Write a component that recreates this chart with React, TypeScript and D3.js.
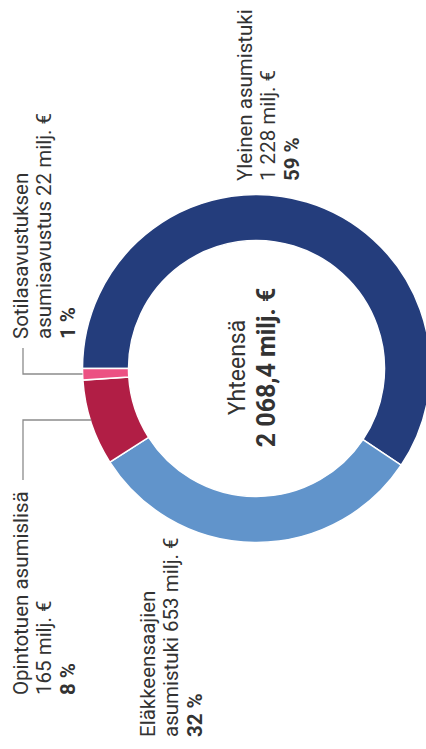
import React from "react";
import * as d3 from "d3";

const categories = [
  "Yleinen asumistuki",
  "Eläkkeensaajien asumistuki",
  "Opintotuen asumislisä",
  "Sotilasavustuksen asumisavustus",
];
const values = [1228, 653, 165, 22];
const total = 2068.4;
const colors = ["#243d7c", "#6194cb", "#b11e45", "#ec5183"];

const fi = d3.formatLocale({
  decimal: ",",
  thousands: "\u00a0",
  grouping: [3],
  currency: ["", " €"],
});
const fmtInt = fi.format(",d");
const fmtTot = fi.format(",.1f");

const W = 426;
const H = 749;
const cx = 256.5;
const cy = 368.5;
const rOuter = 174;
const rInner = 128;
const FONT = "Roboto, 'Noto Sans', sans-serif";
const TXT = "#333333";
const LH = 23.4;

// label layout (rotated -90deg text): baseline x of first line, start y
const labelLayout = [
  { x: 252, y: 181, lines: (c: string, v: string, p: string) => [c, v, p] },
  { x: 155, y: 737, lines: (c: string, v: string, p: string) => ["Eläkkeensaajien", "asumistuki " + v, p] },
  { x: 28, y: 695, lines: (c: string, v: string, p: string) => [c, v, p] },
  { x: 28, y: 339, lines: (c: string, v: string, p: string) => ["Sotilasavustuksen", "asumisavustus " + v, p] },
];

export default function App() {
  const pie = d3
    .pie<number>()
    .sort(null)
    .startAngle(-Math.PI / 2)
    .endAngle((3 * Math.PI) / 2);
  const arcs = pie(values);
  const arc = d3.arc<d3.PieArcDatum<number>>().innerRadius(rInner).outerRadius(rOuter);

  const leaders = [
    // Sotilas
    d3.line()([
      [23, 348],
      [23, 374],
      [cx - rOuter, 374],
    ]),
    // Opintotuen
    d3.line()([
      [23, 480],
      [23, 420],
      [cx - Math.sqrt(rOuter * rOuter - (420 - cy) * (420 - cy)) + 1, 420],
    ]),
  ];

  return (
    <svg
      width={W}
      height={H}
      style={{ position: "absolute", left: 0, top: 0, background: "#fff" }}
      fontFamily={FONT}
    >
      <g transform={`translate(${cx},${cy})`}>
        {arcs.map((a, i) => (
          <path key={i} d={arc(a) || ""} fill={colors[i]} stroke="#fff" strokeWidth={1.5} />
        ))}
      </g>
      {leaders.map((d, i) => (
        <path key={i} d={d || ""} fill="none" stroke="#8c8c8c" strokeWidth={1.3} />
      ))}
      {labelLayout.map((l, i) => {
        const lines = l.lines(
          categories[i],
          fmtInt(values[i]) + " milj. €",
          Math.round((values[i] / total) * 100) + " %"
        );
        return (
          <text
            key={i}
            transform={`translate(${l.x},${l.y}) rotate(-90)`}
            fontSize={20.5}
            fill={TXT}
          >
            {lines.map((t, j) => (
              <tspan key={j} x={0} y={j * LH} fontWeight={j === 2 ? 700 : 400}>
                {t}
              </tspan>
            ))}
          </text>
        );
      })}
      <text transform={`translate(245,367.5) rotate(-90)`} fill={TXT} textAnchor="middle">
        <tspan x={0} y={0} fontSize={23}>
          Yhteensä
        </tspan>
        <tspan x={0} y={30} fontSize={25} fontWeight={700}>
          {fmtTot(total) + " milj. €"}
        </tspan>
      </text>
    </svg>
  );
}
